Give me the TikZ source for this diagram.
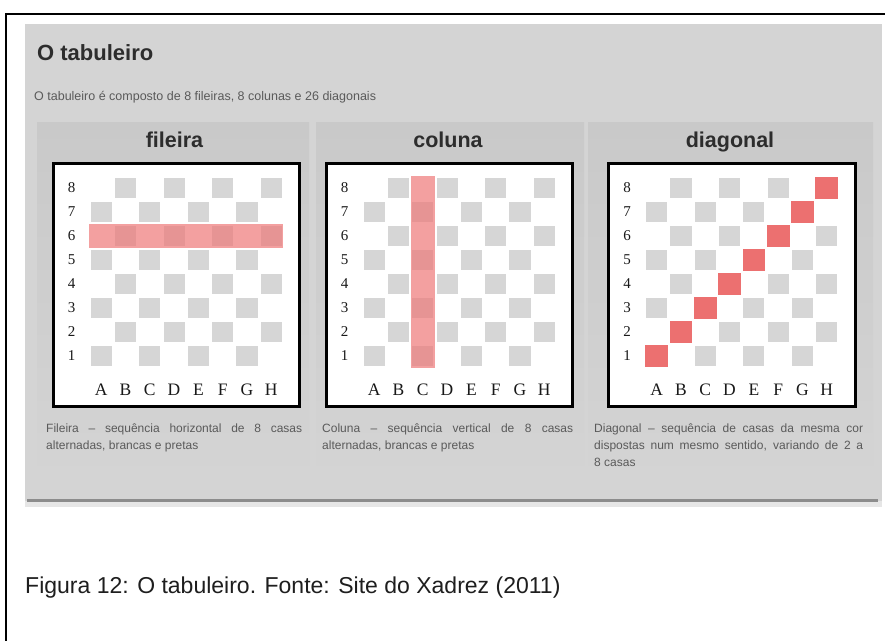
\documentclass[tikz,border=0pt]{standalone}
\usepackage{fontspec}
\setmainfont{Liberation Sans}
\newfontfamily\brdfont{Liberation Serif}
\definecolor{panelbg}{RGB}{212,212,212}
\definecolor{colpanel}{RGB}{201,201,201}
\definecolor{sqgray}{RGB}{214,214,214}
\definecolor{hlred}{RGB}{236,112,112}
\definecolor{bandred}{RGB}{238,120,120}
\definecolor{captxt}{RGB}{90,90,90}
\definecolor{headtxt}{RGB}{45,45,45}
\definecolor{sepline}{RGB}{140,140,140}
\definecolor{sepstrip}{RGB}{230,230,230}
\definecolor{lbltxt}{RGB}{25,25,25}
\definecolor{figtxt}{RGB}{30,30,30}
\tikzset{
  frameline/.style={line width=2.5pt,draw=black},
  boardframe/.style={draw=black,line width=3pt,fill=white,inner sep=0pt,
    minimum width=246.5pt,minimum height=243.5pt,anchor=north west},
  sqbox/.style={fill=sqgray},
  hlsq/.style={fill=hlred},
  bandbox/.style={fill=bandred,fill opacity=0.7},
  ranklbl/.style={font=\brdfont\fontsize{15}{15}\selectfont,text=lbltxt,inner sep=0pt},
  filelbl/.style={font=\brdfont\fontsize{17.5}{17.5}\selectfont,text=lbltxt,inner sep=0pt,anchor=base},
  headlbl/.style={font=\bfseries\fontsize{21.5}{24}\selectfont,text=headtxt,inner sep=0pt,anchor=base},
  capline/.style={font=\fontsize{12}{14}\selectfont,text=captxt,inner sep=0pt,anchor=base west},
}
\begin{document}
\begin{tikzpicture}[x=1pt,y=-1pt]
\useasboundingbox (0,0) rectangle (885,640);
\fill[white] (0,0) rectangle (885,640);
% grey page panel
\fill[panelbg] (25,24) rectangle (882,506);
\foreach \px/\pw in {37/272, 316/268, 588/285}{
  \shade[top color=colpanel, bottom color=panelbg] (\px,122) rectangle ++(\pw,360);
}
\fill[sepstrip] (25,501) rectangle (882,507);
\draw[sepline,line width=2.5pt] (27,500.5) -- (878,500.5);
% outer frame (top and left edges)
\draw[frameline] (6,650) -- (6,14) -- (895,14);
% title and subtitle
\node[anchor=base west,inner sep=0pt,font=\bfseries\fontsize{22}{26}\selectfont,text=headtxt] (title) at (37,60) {O tabuleiro};
\node[anchor=base west,inner sep=0pt,font=\fontsize{12.5}{14}\selectfont,text=captxt] (subtitle) at (34,100) {O tabuleiro é composto de 8 fileiras, 8 colunas e 26 diagonais};
% headings
\node[headlbl] (hfil) at (174.5,147) {fileira};
\node[headlbl] (hcol) at (448,147) {coluna};
\node[headlbl] (hdia) at (730,147) {diagonal};
% boards
\foreach \bx/\nm/\kind in {51.5/fil/1, 324.5/col/2, 607/dia/3}{
  \node[boardframe] (\nm-board) at (\bx,161.5) {};
  \foreach \f in {1,...,8}{
    \foreach \r in {1,...,8}{
      \pgfmathparse{int(mod(\f+\r,2))}
      \ifnum\pgfmathresult=0
        \fill[sqbox] ({\bx+37.5+(\f-1)*24.3+1.6},{176+(8-\r)*24+1.8}) rectangle ++(21.1,20.4);
      \fi
    }
  }
  \ifnum\kind=1
    \fill[bandbox] ({\bx+37.5},{176+2*24}) rectangle ++(194.4,24);
  \fi
  \ifnum\kind=2
    \fill[bandbox] ({\bx+37.5+2*24.3},176) rectangle ++(24.3,192);
  \fi
  \ifnum\kind=3
    \foreach \i in {1,...,8}{
      \fill[hlsq] ({\bx+37.5+(\i-1)*24.3+0.8},{176+(8-\i)*24+0.8}) rectangle ++(22.7,22.4);
    }
  \fi
  \foreach \r in {1,...,8}{
    \node[ranklbl] (\nm-r\r) at (\bx+20,{176+(8-\r)*24+12}) {\r};
  }
  \foreach \f/\L in {1/A,2/B,3/C,4/D,5/E,6/F,7/G,8/H}{
    \node[filelbl] (\nm-f\L) at ({\bx+37.5+(\f-0.5)*24.3},395) {\L};
  }
}
% captions under boards
\node[capline] (capfilA) at (46,432) {\makebox[256pt][s]{Fileira – sequência horizontal de 8 casas}};
\node[capline] (capfilB) at (46,449) {alternadas, brancas e pretas};
\node[capline] (capcolA) at (322,432) {\makebox[251pt][s]{Coluna – sequência vertical de 8 casas}};
\node[capline] (capcolB) at (322,449) {alternadas, brancas e pretas};
\node[capline] (capdiaA) at (594,432) {\makebox[269pt][s]{Diagonal – sequência de casas da mesma cor}};
\node[capline] (capdiaB) at (594,449) {\makebox[269pt][s]{dispostas num mesmo sentido, variando de 2 a}};
\node[capline] (capdiaC) at (594,466) {8 casas};
% figure caption
\node[anchor=base west,inner sep=0pt,font=\fontsize{23}{27}\selectfont,text=figtxt] (figcap) at (25,593) {Figura 12: O tabuleiro. Fonte: Site do Xadrez (2011)};
\end{tikzpicture}
\end{document}
